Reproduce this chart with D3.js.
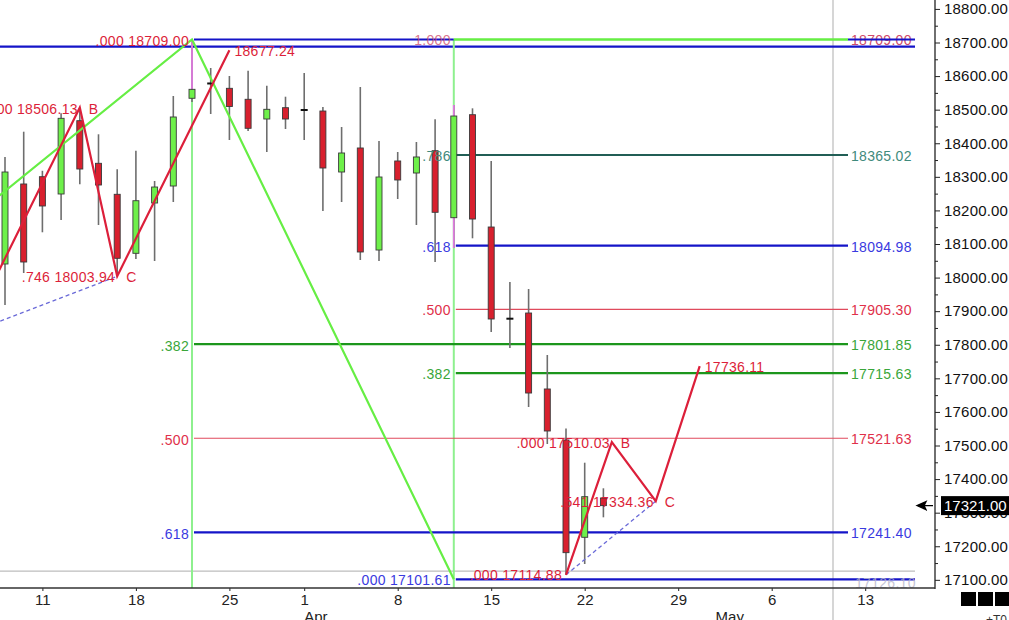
<!DOCTYPE html>
<html><head><meta charset="utf-8">
<script src="https://cdn.jsdelivr.net/npm/d3@7"></script>
<style>body{margin:0;background:#fff;overflow:hidden}svg{display:block}text{font-family:"Liberation Sans",Arial,sans-serif}</style>
</head><body>
<svg id="chart" width="1009" height="620"></svg>
<script>
// ---------- DATA ----------
const dates = ["Mar 7","Mar 8","Mar 11","Mar 12","Mar 13","Mar 14","Mar 15","Mar 18","Mar 19","Mar 20","Mar 21","Mar 22","Mar 25","Mar 26","Mar 27","Mar 28",
  "Apr 1","Apr 2","Apr 3","Apr 4","Apr 5","Apr 8","Apr 9","Apr 10","Apr 11","Apr 12","Apr 15","Apr 16","Apr 17","Apr 18","Apr 19","Apr 22","Apr 23"];
const opens  = [18040.5,18278.7,18300.4,18248.9,18467.2,18340.3,18248.0,18072.3,18222.1,18272.7,18533.9,18578.0,18563.6,18530.9,18472.2,18505.9,
  18499.0,18496.0,18314.4,18385.9,18082.1,18347.2,18311.4,18377.8,18178.3,18485.0,18150.6,17877.6,17894.5,17668.3,17516.4,17226.7,17343.7];
const highs  = [18359.1,18434.4,18318.0,18489.2,18506.13,18426.7,18322.4,18377.8,18287.6,18540.7,18709.0,18624.1,18600.3,18616.0,18571.4,18538.6,
  18609.2,18507.9,18448.4,18567.5,18406.7,18374.0,18403.7,18471.3,18513.9,18504.0,18347.2,17986.9,17966.0,17769.5,17551.0,17448.8,17372.6];
const lows   = [17918.4,18013.7,18134.9,18171.4,18277.8,18156.6,18003.94,18055.3,18049.4,18225.1,18522.8,18487.1,18409.7,18436.5,18374.0,18442.4,
  18409.7,18198.3,18225.1,18052.4,18049.4,18234.0,18156.6,18046.4,18088.1,18117.0,17838.0,17790.3,17614.6,17504.5,17114.88,17147.2,17286.2];
const closes = [18314.4,18046.4,18213.2,18474.3,18323.3,18275.7,18057.4,18228.9,18269.7,18478.2,18560.6,18578.0,18509.4,18444.5,18501.1,18472.2,
  18499.0,18326.3,18371.0,18076.2,18299.5,18290.6,18359.1,18194.4,18481.1,18174.4,17876.7,17877.6,17656.3,17543.2,17180.9,17347.6,17321.0];
const markedBars = [10, 24];

// x axis ticks (trading-day index) and labels
const xTickIdx = [2,7,12,16,21,26,31,36,41,46];
const xTickLabels = ["11","18","25","1","8","15","22","29","6","13"];
const monthIdx = [16,38];
const monthLabels = ["Apr","May"];
// y axis ticks
const yTicks = d3.range(17100, 18801, 100);

// Fibonacci retracement (right): anchored at bar 24
const rightFibRatios = [".000",".382",".500",".618",".786","1.000"];
const rightFibValues = [17101.61,17715.63,17905.30,18094.98,18365.02,18709.00];
// Fibonacci retracement (left): anchored at bar 10
const leftFibRatios = [".000",".382",".500",".618"];
const leftFibValues = [18709.00,17801.85,17521.63,17241.40];

// ABC patterns (bar index, price)
const abcLeftIdx = [-2,4,6,12];
const abcLeftVal = [17832.9,18506.13,18003.94,18677.24];
const abcLeftText = ["", ".000 18506.13", ".746 18003.94", "18677.24"];
const abcRightIdx = [30,32.45,34.8,37.15];
const abcRightVal = [17114.88,17510.03,17334.36,17736.11];
const abcRightText = [".000 17114.88", ".000 17510.03", ".541 17334.36", "17736.11"];
const abcLetters = ["", "B", "C", ""];

// projection zigzag (green)
const projIdx = [-6,10,24];
const projVal = [17987.0,18709.0,17101.61];

// other horizontal lines
const extraLineVal = 18687.6;
const grayLineVal = 17126.10;
const lastPrice = 17321.00;

// ---------- LAYOUT ----------
const W = 1009, H = 620;
const plotR = 935, plotB = 588;
const fibEnd = 848, extEnd = 915;
const svg = d3.select("#chart");
const x = d3.scaleLinear().domain([0, 46]).range([5, 865.2]);
const y = d3.scaleLinear().domain([17100, 18800]).range([579.84, 8.92]);
const fmt = d3.format(".2f");

svg.append("defs").append("clipPath").attr("id","plot")
  .append("rect").attr("x",0).attr("y",0).attr("width",plotR).attr("height",plotB);
const g = svg.append("g").attr("clip-path","url(#plot)");

const fibStyle = {
  ".000": {stroke:"#1414c8", w:2.2, text:"#3a3ae0"},
  ".382": {stroke:"#1c961c", w:2.2, text:"#3aa63a"},
  ".500": {stroke:"#e04a5c", w:1.2, text:"#e0304a"},
  ".618": {stroke:"#1414c8", w:2.2, text:"#3a3ae0"},
  ".786": {stroke:"#215e55", w:2.2, text:"#3f8a7c"},
  "1.000":{stroke:"#1414c8", w:2.2, text:"#d04a6a"}
};
const red = "#dc1f3a", green = "#66ee44", lightGreen = "#8ef08e";

// gray vertical line (full height)
svg.insert("line", ":first-child").attr("x1",833).attr("x2",833).attr("y1",0).attr("y2",H)
  .attr("stroke","#c8c8c8").attr("stroke-width",1.5);

// gray horizontal line
g.append("line").attr("x1",0).attr("x2",extEnd).attr("y1",y(grayLineVal)).attr("y2",y(grayLineVal))
  .attr("stroke","#bdbdbd").attr("stroke-width",1.2);
// extra blue line
g.append("line").attr("x1",0).attr("x2",extEnd).attr("y1",y(extraLineVal)).attr("y2",y(extraLineVal))
  .attr("stroke","#1414c8").attr("stroke-width",2.2);

// light green verticals
[10,24].forEach(i=>{
  g.append("line").attr("x1",x(i)).attr("x2",x(i)).attr("y1",y(18709)).attr("y2",plotB)
   .attr("stroke",lightGreen).attr("stroke-width",2);
});

// left fib lines
leftFibRatios.forEach((r,k)=>{
  const st = fibStyle[r], v = leftFibValues[k];
  const x2 = r === ".000" ? x(24) : fibEnd;
  g.append("line").attr("x1",x(10)+2).attr("x2",x2).attr("y1",y(v)).attr("y2",y(v))
   .attr("stroke",st.stroke).attr("stroke-width",st.w);
});
// right fib lines
rightFibRatios.forEach((r,k)=>{
  const st = fibStyle[r], v = rightFibValues[k];
  if (r === "1.000") {
    g.append("line").attr("x1",x(24)).attr("x2",fibEnd).attr("y1",y(v)).attr("y2",y(v))
     .attr("stroke",green).attr("stroke-width",2.4);
  } else {
    g.append("line").attr("x1",x(24)+2).attr("x2", r===".000" ? extEnd : fibEnd).attr("y1",y(v)).attr("y2",y(v))
     .attr("stroke",st.stroke).attr("stroke-width",st.w);
  }
});

// labels helper
function label(txt, xx, yy, color, anchor, size, opacity){
  return svg.append("text").attr("x",xx).attr("y",yy).attr("dy","0.35em")
    .attr("fill",color).attr("text-anchor",anchor||"start")
    .attr("font-size",(size||14)+"px").attr("letter-spacing","0.3px")
    .attr("opacity",opacity==null?1:opacity).text(txt);
}

// candles
const bars = g.append("g");
dates.forEach((d,i)=>{
  const o=opens[i], c=closes[i], h=highs[i], l=lows[i], cx=x(i);
  const marked = markedBars.includes(i);
  const top = Math.max(o,c), bot = Math.min(o,c);
  bars.append("line").attr("x1",cx).attr("x2",cx).attr("y1",y(h)).attr("y2",y(l))
    .attr("stroke","#6e6e6e").attr("stroke-width",1.6);
  if (marked) {
    bars.append("line").attr("x1",cx).attr("x2",cx).attr("y1",y(h)).attr("y2",y(top))
      .attr("stroke","#e07ae0").attr("stroke-width",1.8);
    if (i===24) bars.append("line").attr("x1",cx).attr("x2",cx).attr("y1",y(bot)).attr("y2",y(l))
      .attr("stroke","#e07ae0").attr("stroke-width",1.8);
  }
  if (o === c) {
    bars.append("rect").attr("x",cx-3.5).attr("y",y(o)-1).attr("width",7).attr("height",2).attr("fill","#111");
  } else {
    bars.append("rect").attr("x",cx-3).attr("y",y(top)).attr("width",6).attr("height",Math.max(1,y(bot)-y(top)))
      .attr("fill", c>o ? "#6ef04a" : "#d8202e").attr("stroke","#3a3a3a").attr("stroke-width",0.9);
  }
});

// projection zigzag
const lineGen = d3.line().x(d=>x(d[0])).y(d=>y(d[1]));
g.append("path").datum(projIdx.map((v,k)=>[v,projVal[k]])).attr("d",lineGen)
  .attr("fill","none").attr("stroke",green).attr("stroke-width",2.2);

// A-C dashed
[[abcLeftIdx,abcLeftVal],[abcRightIdx,abcRightVal]].forEach(([ix,vv])=>{
  g.append("path").datum([[ix[0],vv[0]],[ix[2],vv[2]]]).attr("d",lineGen)
   .attr("fill","none").attr("stroke","#6a6ad8").attr("stroke-width",1.3).attr("stroke-dasharray","4,3");
});
// ABC zigzags
[[abcLeftIdx,abcLeftVal],[abcRightIdx,abcRightVal]].forEach(([ix,vv])=>{
  g.append("path").datum(ix.map((v,k)=>[v,vv[k]])).attr("d",lineGen)
   .attr("fill","none").attr("stroke",red).attr("stroke-width",2.2).attr("stroke-linejoin","miter");
});

// fib labels: left side ratio labels
leftFibRatios.forEach((r,k)=>{
  const v = leftFibValues[k];
  const t = r === ".000" ? r + " " + fmt(v) : r;
  label(t, x(10)-3, y(v)+1.5, r===".000" ? red : fibStyle[r].text, "end");
});
rightFibRatios.forEach((r,k)=>{
  const v = rightFibValues[k];
  const t = r === ".000" ? r + " " + fmt(v) : r;
  label(t, x(24)-3, y(v)+1, fibStyle[r].text, "end", 14, r==="1.000"?0.75:1);
});
// right value labels
rightFibRatios.forEach((r,k)=>{
  if (r === ".000") return;
  label(fmt(rightFibValues[k]), fibEnd+3, y(rightFibValues[k])+1, fibStyle[r].text);
});
leftFibRatios.forEach((r,k)=>{
  if (r === ".000") return;
  label(fmt(leftFibValues[k]), fibEnd+3, y(leftFibValues[k])+1, fibStyle[r].text);
});
// blue strike over the 18709 label
svg.append("line").attr("x1",fibEnd).attr("x2",extEnd).attr("y1",y(18709)).attr("y2",y(18709))
  .attr("stroke","#1414c8").attr("stroke-width",2);
// faded gray label
label(fmt(grayLineVal), 855, y(grayLineVal)+12, "#b8b8cc", "start", 14, 0.8);

// ABC labels
function abcLabels(ix, vv, texts){
  ix.forEach((i,k)=>{
    if (!texts[k]) return;
    const px = x(i), py = y(vv[k]);
    if (k===0) label(texts[k], px-4, py, red, "end");
    else if (k===3) label(texts[k], px+5, py+1, red, "start");
    else {
      label(texts[k], px - 2, py + 1, red, "end");
      label(abcLetters[k], px + 9, py + 1, red, "start");
    }
  });
}
abcLabels(abcLeftIdx, abcLeftVal, abcLeftText);
abcLabels(abcRightIdx, abcRightVal, abcRightText);

// ---------- AXES ----------
// right axis
const yAxis = d3.axisRight(y).tickValues(yTicks).tickFormat(fmt).tickSize(5).tickPadding(4);
const ya = svg.append("g").attr("transform",`translate(${plotR},0)`).call(yAxis);
ya.select(".domain").remove();
ya.selectAll("text").attr("font-size","15px").attr("fill","#111").attr("font-family","Liberation Sans, Arial, sans-serif").attr("letter-spacing","0.2px");
ya.selectAll("line").attr("stroke","#222");
svg.append("g").attr("transform",`translate(${plotR},0)`)
  .call(d3.axisRight(y).tickValues(d3.range(17150,18800,100)).tickSize(3).tickFormat(""))
  .call(s=>{s.select(".domain").remove(); s.selectAll("line").attr("stroke","#222");});
svg.append("line").attr("x1",plotR).attr("x2",plotR).attr("y1",0).attr("y2",plotB+1).attr("stroke","#222").attr("stroke-width",1.3);

// bottom axis
const xAxis = d3.axisBottom(x).tickValues(xTickIdx).tickFormat((d,k)=>xTickLabels[k]).tickSize(3).tickPadding(3);
const xa = svg.append("g").attr("transform",`translate(0,${plotB})`).call(xAxis);
xa.select(".domain").remove();
xa.selectAll("text").attr("font-size","15px").attr("fill","#222").attr("font-family","Liberation Sans, Arial, sans-serif");
xa.selectAll("line").attr("stroke","#222");
svg.append("line").attr("x1",0).attr("x2",plotR).attr("y1",plotB).attr("y2",plotB).attr("stroke","#333").attr("stroke-width",1.3);
monthIdx.forEach((i,k)=>{
  svg.append("text").attr("x",x(i)).attr("y",622).attr("font-size","15px").attr("fill","#222").text(monthLabels[k]);
});

// last price box and arrow
const ly = y(lastPrice);
svg.append("rect").attr("x",941).attr("y",ly-9.5).attr("width",70).attr("height",19).attr("fill","#000");
svg.append("text").attr("x",944).attr("y",ly).attr("dy","0.36em").attr("font-size","15px").attr("fill","#fff").text(fmt(lastPrice));
svg.append("path").attr("d",`M917,${ly} L926,${ly-4} L924,${ly} L926,${ly+4} Z M921,${ly} L933,${ly}`)
  .attr("fill","#000").attr("stroke","#000").attr("stroke-width",1.3);

// bottom-right widgets
[961,978,995].forEach(px=>svg.append("rect").attr("x",px).attr("y",592).attr("width",15).attr("height",14).attr("fill","#000"));
svg.append("text").attr("x",986).attr("y",624).attr("font-size","12px").attr("fill","#333").text("+T0");
</script>
</body></html>
